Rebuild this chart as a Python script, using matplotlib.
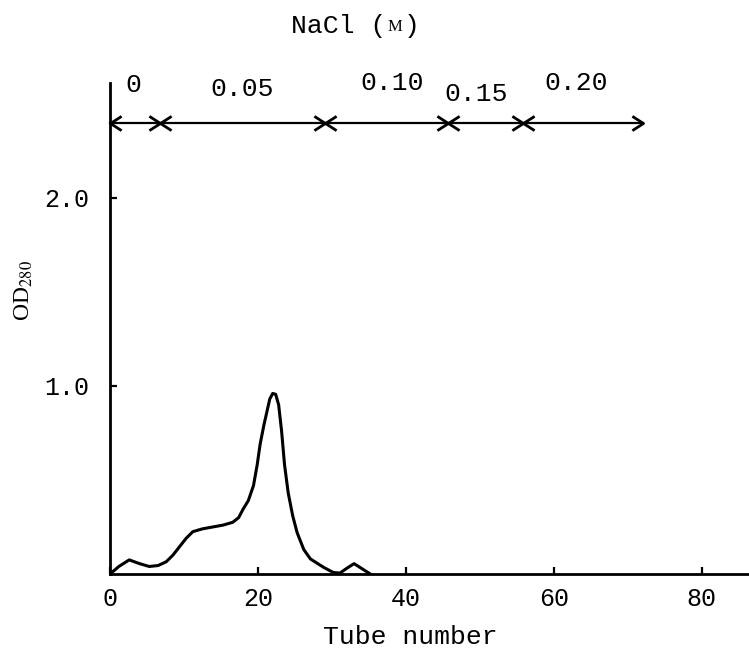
import matplotlib.pyplot as plt
from matplotlib.path import Path

# elution profile
tube = [0, 1.2, 2.6, 4.0, 5.3, 6.5, 7.6, 8.5, 9.4, 10.3, 11.2, 12.5, 13.9, 15.3,
        16.6, 17.4, 18.0, 18.7, 19.4, 19.9, 20.3, 20.8, 21.2, 21.6, 22.0, 22.4,
        22.8, 23.2, 23.6, 24.1, 24.7, 25.3, 26.2, 27.1, 28.9, 30.2, 31.1, 32.0,
        33.0, 34.0, 35.2]
od280 = [0, 0.04, 0.075, 0.055, 0.04, 0.045, 0.065, 0.10, 0.145, 0.19, 0.225,
         0.24, 0.25, 0.26, 0.275, 0.30, 0.345, 0.39, 0.47, 0.58, 0.69, 0.79,
         0.86, 0.93, 0.96, 0.955, 0.90, 0.76, 0.58, 0.43, 0.31, 0.22, 0.13,
         0.08, 0.035, 0.008, 0.005, 0.03, 0.055, 0.03, 0.0]

# NaCl step gradient: segment boundaries and labels
bounds = [0, 6.8, 29.1, 45.7, 55.8, 72.0]
salt_labels = ['0', '0.05', '0.10', '0.15', '0.20']
label_x = [3.1, 17.8, 38.2, 49.5, 63.0]
label_y = [2.60, 2.58, 2.61, 2.55, 2.61]

xticks = [0, 20, 40, 60, 80]
yticks = [1.0, 2.0]

mono = 'Liberation Mono'

fig = plt.figure(figsize=(7.49, 6.48), dpi=100)
ax = fig.add_axes([110 / 749, 74 / 648, 639 / 749, 491 / 648])

ax.plot(tube, od280, color='black', lw=2.2, solid_capstyle='round',
        solid_joinstyle='round')

ax.set_xlim(0, 86.4)
ax.set_ylim(0, 2.61)
ax.spines['top'].set_visible(False)
ax.spines['right'].set_visible(False)
for s in ('left', 'bottom'):
    ax.spines[s].set_linewidth(2.0)

ax.set_xticks(xticks)
ax.set_xticklabels([str(t) for t in xticks], fontfamily=mono, fontsize=18)
ax.set_yticks(yticks)
ax.set_yticklabels(['%.1f' % t for t in yticks], fontfamily=mono, fontsize=18)
ax.tick_params(axis='both', direction='in', length=5, width=1.6)
ax.tick_params(axis='x', pad=9)
ax.tick_params(axis='y', pad=15)

# gradient line with open arrowheads meeting at each boundary
head_r = Path([(-1.4, 0.9), (0, 0), (-1.4, -0.9)],
              [Path.MOVETO, Path.LINETO, Path.LINETO])
head_l = Path([(1.4, 0.9), (0, 0), (1.4, -0.9)],
              [Path.MOVETO, Path.LINETO, Path.LINETO])
ax.plot([bounds[0], bounds[-1]], [2.4, 2.4], color='black', lw=1.6,
        clip_on=False)
ax.plot(bounds[1:], [2.4] * (len(bounds) - 1), ls='none', marker=head_r,
        ms=16, mew=2.0, mec='black', mfc='none', clip_on=False)
ax.plot(bounds[:-1], [2.4] * (len(bounds) - 1), ls='none', marker=head_l,
        ms=16, mew=2.0, mec='black', mfc='none', clip_on=False)

for lx, ly, txt in zip(label_x, label_y, salt_labels):
    ax.text(lx, ly, txt, ha='center', va='center', fontfamily=mono,
            fontsize=19, clip_on=False)

# title and axis labels in figure pixels
W, H = 749, 648
fig.text(291 / W, 1 - 26 / H, 'NaCl (', ha='left', va='center',
         fontfamily=mono, fontsize=19)
fig.text(395 / W, 1 - 27 / H, 'M', ha='center', va='center',
         fontfamily='Liberation Serif', fontsize=12)
fig.text(404 / W, 1 - 26 / H, ')', ha='left', va='center',
         fontfamily=mono, fontsize=19)
fig.text(410 / W, 1 - 637 / H, 'Tube number', ha='center', va='center',
         fontfamily=mono, fontsize=19)

plt.rcParams['mathtext.fontset'] = 'stix'
fig.text(24 / W, 1 - 291 / H, r'OD$_{280}$', ha='center', va='center',
         rotation=90, fontfamily='Liberation Serif', fontsize=17)

fig.savefig('out.png', dpi=100)
